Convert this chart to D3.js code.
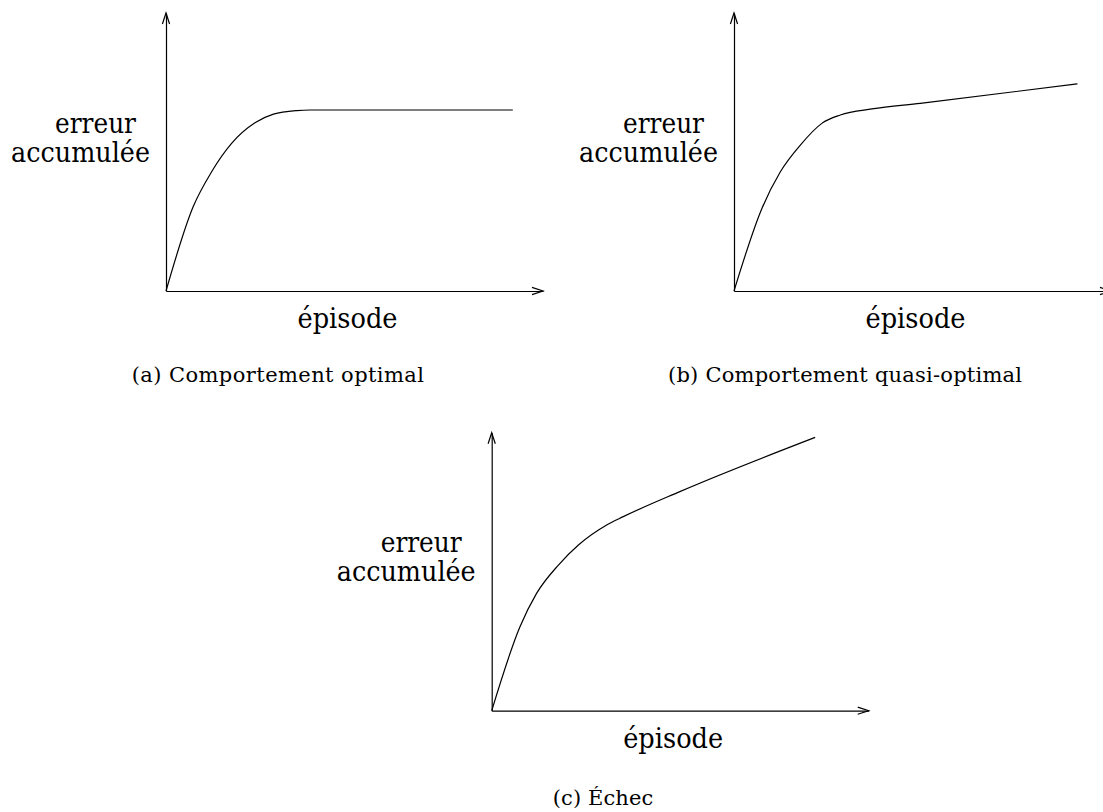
<!DOCTYPE html>
<html><head><meta charset="utf-8">
<script src="https://cdn.jsdelivr.net/npm/d3@7"></script>
<style>
body{margin:0;background:#fff}
svg{display:block}
</style>
</head><body>
<svg id="chart" width="1103" height="812"></svg>
<script>
// ---- data ----
const captions = ["(a) Comportement optimal", "(b) Comportement quasi-optimal", "(c) Échec"];
const yLabelLines = ["erreur", "accumulée"];
const xLabel = "épisode";

const episodesA = [0, 7.2, 12.1, 17.4, 23.6, 28.5, 34.7, 38.2, 92];
const errorA    = [0, 30.3, 42.9, 53.1, 60.5, 63.6, 64.9, 65.1, 65.1];

const episodesB = [0, 7.4, 12.3, 17.6, 23.3, 28.2, 36.6, 49.4, 91.1];
const errorB    = [0, 29.7, 42.9, 52.5, 60.3, 63.3, 65.5, 67.5, 74.5];

const episodesC = [0, 7.5, 11.9, 17.7, 23.0, 30.5, 34.9, 49.9, 85.8];
const errorC    = [0, 30.2, 42.2, 52.4, 59.6, 66.8, 69.8, 78.8, 98.3];

// ---- layout ----
const panels = [
  {ox: 166, oy: 291, capX: 131.7, capW: 292.3, capY: 381.5, xs: episodesA, ys: errorA, cap: captions[0]},
  {ox: 734, oy: 291, capX: 668,   capW: 354,   capY: 381.5, xs: episodesB, ys: errorB, cap: captions[1]},
  {ox: 491.7, oy: 710.7, capX: 552.7, capW: 100.6, capY: 805, xs: episodesC, ys: errorC, cap: captions[2]}
];

const FONT = '"DejaVu Serif", serif';
const svg = d3.select("#chart");
const x = d3.scaleLinear().domain([0, 100]).range([0, 377]);
const y = d3.scaleLinear().domain([0, 100]).range([278, 0]);
const line = d3.line().x(d => x(d[0])).y(d => y(d[1])).curve(d3.curveMonotoneX);
const arrow = "M-11,-3.6L0,0L-11,3.6";
const SW = 1.2;

panels.forEach(p => {
  const g = svg.append("g").attr("transform", `translate(${p.ox},${p.oy - y(0)})`);

  // axes
  const gx = g.append("g").attr("transform", `translate(0,${y(0)})`)
    .call(d3.axisBottom(x).ticks(0).tickSizeOuter(0));
  const gy = g.append("g").attr("transform", `translate(${x(0)},0)`)
    .call(d3.axisLeft(y).ticks(0).tickSizeOuter(0));
  [gx, gy].forEach(a => a.select(".domain").attr("stroke", "#000").attr("stroke-width", SW));

  // arrowheads
  g.append("path").attr("d", arrow)
    .attr("transform", `translate(${x(100)},${y(0)})`)
    .attr("fill", "none").attr("stroke", "#000").attr("stroke-width", SW);
  g.append("path").attr("d", arrow)
    .attr("transform", `translate(${x(0)},${y(100)}) rotate(-90)`)
    .attr("fill", "none").attr("stroke", "#000").attr("stroke-width", SW);

  // curve
  const pts = p.xs.map((v, i) => [v, p.ys[i]]);
  g.append("path").datum(pts).attr("d", line)
    .attr("fill", "none").attr("stroke", "#000").attr("stroke-width", SW)
    .attr("stroke-linejoin", "round").attr("stroke-linecap", "butt");

  // y label (two lines)
  const yl = [
    {t: yLabelLines[0], dx: -111, w: 81, dy: -158.5},
    {t: yLabelLines[1], dx: -155, w: 139, dy: -129.5}
  ];
  yl.forEach(l => {
    svg.append("text").attr("x", p.ox + l.dx).attr("y", p.oy + l.dy)
      .attr("font-family", FONT).attr("fill", "#000")
      .attr("font-size", 27).attr("textLength", l.w).attr("lengthAdjust", "spacingAndGlyphs")
      .text(l.t);
  });

  // x label
  svg.append("text").attr("x", p.ox + 131.5).attr("y", p.oy + 37.3)
    .attr("font-family", FONT).attr("fill", "#000")
    .attr("font-size", 27).attr("textLength", 100).attr("lengthAdjust", "spacingAndGlyphs")
    .text(xLabel);

  // caption
  svg.append("text").attr("x", p.capX).attr("y", p.capY)
    .attr("font-family", FONT).attr("fill", "#000")
    .attr("font-size", 21).attr("textLength", p.capW).attr("lengthAdjust", "spacing")
    .text(p.cap);
});
</script>
</body></html>
